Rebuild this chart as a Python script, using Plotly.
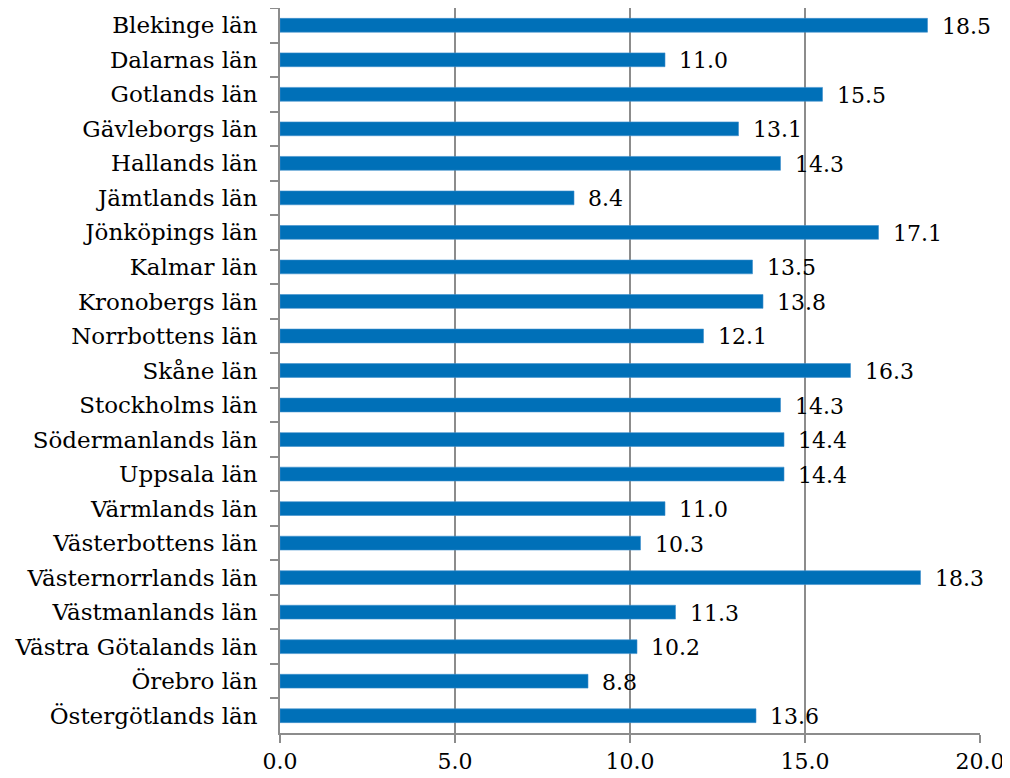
import plotly.graph_objects as go

categories = ["Blekinge län", "Dalarnas län", "Gotlands län", "Gävleborgs län", "Hallands län",
              "Jämtlands län", "Jönköpings län", "Kalmar län", "Kronobergs län", "Norrbottens län",
              "Skåne län", "Stockholms län", "Södermanlands län", "Uppsala län", "Värmlands län",
              "Västerbottens län", "Västernorrlands län", "Västmanlands län", "Västra Götalands län",
              "Örebro län", "Östergötlands län"]
values = [18.5, 11.0, 15.5, 13.1, 14.3, 8.4, 17.1, 13.5, 13.8, 12.1, 16.3, 14.3, 14.4, 14.4,
          11.0, 10.3, 18.3, 11.3, 10.2, 8.8, 13.6]
x_ticks = [0, 5, 10, 15, 20]
x_tick_labels = ["0.0", "5.0", "10.0", "15.0", "20.0"]

FONT = "DejaVu Serif"
GRID = "#8c8c8c"
FS = 22

fig = go.Figure()
fig.add_trace(go.Bar(
    x=values, y=categories, orientation="h",
    marker=dict(color="#0070B8", line=dict(color="#3f8fcc", width=0.6)),
    width=0.4, hoverinfo="x+y",
))

annotations = [
    dict(x=v, y=c, text=f"{v:.1f}", showarrow=False, xanchor="left", yanchor="middle",
         xshift=12, yshift=-1, font=dict(family=FONT, size=FS, color="black"))
    for c, v in zip(categories, values)
]

fig.update_layout(
    width=1010, height=778,
    margin=dict(l=272, r=38, t=0, b=53),
    plot_bgcolor="white", paper_bgcolor="white",
    font=dict(family=FONT, size=FS, color="black"),
    showlegend=False,
    annotations=annotations,
    xaxis=dict(
        range=[0, 20], tickvals=x_ticks, ticktext=x_tick_labels,
        showgrid=True, gridcolor=GRID, gridwidth=1.5,
        showline=True, linecolor=GRID, linewidth=1.5,
        ticks="outside", ticklen=8, tickcolor=GRID, tickwidth=1.5,
        zeroline=False, tickfont=dict(family=FONT, size=FS, color="black"),
        automargin=False,
    ),
    yaxis=dict(
        autorange="reversed", type="category",
        showline=True, linecolor=GRID, linewidth=1.5,
        ticks="outside", ticklen=8, tickcolor=GRID, tickwidth=1.5,
        tickson="boundaries", showgrid=False,
        tickfont=dict(family=FONT, size=23, color="black"),
        ticklabelstandoff=16, automargin=False,
    ),
)

fig.write_html("out.html")
